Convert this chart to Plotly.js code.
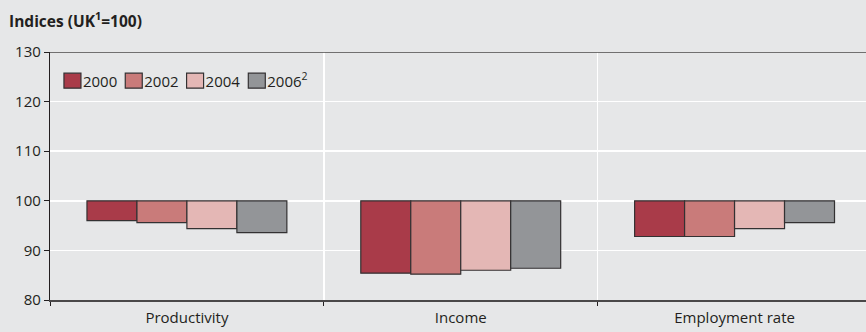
<!DOCTYPE html>
<html>
<head>
<meta charset="utf-8">
<script src="https://cdn.plot.ly/plotly-3.0.1.min.js"></script>
<style>
  html, body { margin: 0; padding: 0; background: #e6e7e8; }
  #chart { width: 866px; height: 332px; }
</style>
</head>
<body>
<div id="chart"></div>
<script>
// Regional indices relative to the UK average (UK = 100)
const categories = ['Productivity', 'Income', 'Employment rate'];
const years = ['2000', '2002', '2004', '2006<sup>2</sup>'];
const values2000 = [96.0, 85.4, 92.8];
const values2002 = [95.6, 85.2, 92.8];
const values2004 = [94.4, 86.0, 94.4];
const values2006 = [93.6, 86.4, 95.6];
const baseline = 100;

const seriesValues = [values2000, values2002, values2004, values2006];
const colors = ['#a93b49', '#c97b7a', '#e4b7b5', '#939598'];

// Bars hang from the UK baseline of 100
const traces = seriesValues.map((vals, i) => ({
  type: 'bar',
  name: years[i],
  x: categories,
  y: vals.map(v => v - baseline),
  base: baseline,
  marker: { color: colors[i], line: { color: '#333132', width: 1.2 } },
  hovertemplate: '%{x}: %{customdata}<extra>' + years[i] + '</extra>',
  customdata: vals
}));

const axisFont = { family: 'Open Sans, sans-serif', size: 15, color: '#231f20' };

const layout = {
  width: 866,
  height: 332,
  paper_bgcolor: '#e6e7e8',
  plot_bgcolor: '#e6e7e8',
  margin: { l: 50, r: 0, t: 52, b: 32 },
  barmode: 'group',
  bargap: 0.27,
  bargroupgap: 0,
  font: axisFont,
  title: {
    text: '<b>Indices (UK<sup>1</sup>=100)</b>',
    font: { family: 'Open Sans, sans-serif', size: 15.5, color: '#231f20' },
    x: 9 / 866, xanchor: 'left', xref: 'container',
    y: 1 - 16 / 332, yanchor: 'top', yref: 'container'
  },
  showlegend: true,
  legend: {
    orientation: 'h',
    x: 0.003, xanchor: 'left',
    y: 0.95, yanchor: 'top',
    bgcolor: 'rgba(0,0,0,0)',
    font: axisFont,
    traceorder: 'normal',
    itemwidth: 30
  },
  xaxis: {
    type: 'category',
    range: [-0.5, 2.48],
    tickson: 'boundaries',
    ticks: 'outside',
    ticklen: 4,
    tickcolor: '#231f20',
    ticklabelstandoff: 3,
    showgrid: true,
    gridcolor: '#ffffff',
    gridwidth: 1.5,
    showline: true,
    linecolor: '#4a4849',
    linewidth: 1.5,
    tickfont: axisFont,
    fixedrange: true
  },
  yaxis: {
    range: [80, 130],
    dtick: 10,
    tick0: 80,
    ticks: 'outside',
    ticklen: 5,
    tickcolor: '#231f20',
    showgrid: true,
    gridcolor: '#ffffff',
    gridwidth: 1.5,
    zeroline: false,
    showline: true,
    linecolor: '#231f20',
    linewidth: 1.2,
    tickfont: axisFont,
    fixedrange: true
  },
  shapes: [
    { type: 'line', xref: 'paper', x0: 0, x1: 1, yref: 'y', y0: baseline, y1: baseline,
      line: { color: '#231f20', width: 1.2 }, layer: 'below' },
    { type: 'line', xref: 'paper', x0: 0, x1: 1, yref: 'y', y0: 130, y1: 130,
      line: { color: '#4a4849', width: 1.5 }, layer: 'above' }
  ]
};

// Compact legend: larger swatches with the label right beside each one
function tightenLegend(gd) {
  const items = gd.querySelectorAll('.legend .traces');
  let nextX = null;
  items.forEach((item) => {
    const m = /translate\(([-\d.]+)[ ,]+([-\d.]+)\)/.exec(item.getAttribute('transform') || '');
    const ty = m ? parseFloat(m[2]) : 0;
    if (nextX === null) nextX = m ? parseFloat(m[1]) : 0;
    item.setAttribute('transform', 'translate(' + nextX + ',' + ty + ')');

    const sw = item.querySelector('.legendpoints path');
    if (sw) sw.setAttribute('d', 'M8.5,7.5H-8.5V-7.5H8.5Z');
    const txt = item.querySelector('text.legendtext');
    if (sw && txt) {
      const ctm = item.getScreenCTM();
      const r = sw.getBoundingClientRect();
      const localRight = (r.right - ctm.e) / ctm.a;
      const localLeft = (r.left - ctm.e) / ctm.a;
      txt.setAttribute('x', localRight + 2);
      const tr = txt.getBoundingClientRect();
      const textRight = (tr.right - ctm.e) / ctm.a;
      nextX += textRight - localLeft + 8;
    }
  });
}

Plotly.newPlot('chart', traces, layout, { displayModeBar: false, staticPlot: true })
  .then(tightenLegend);
</script>
</body>
</html>
